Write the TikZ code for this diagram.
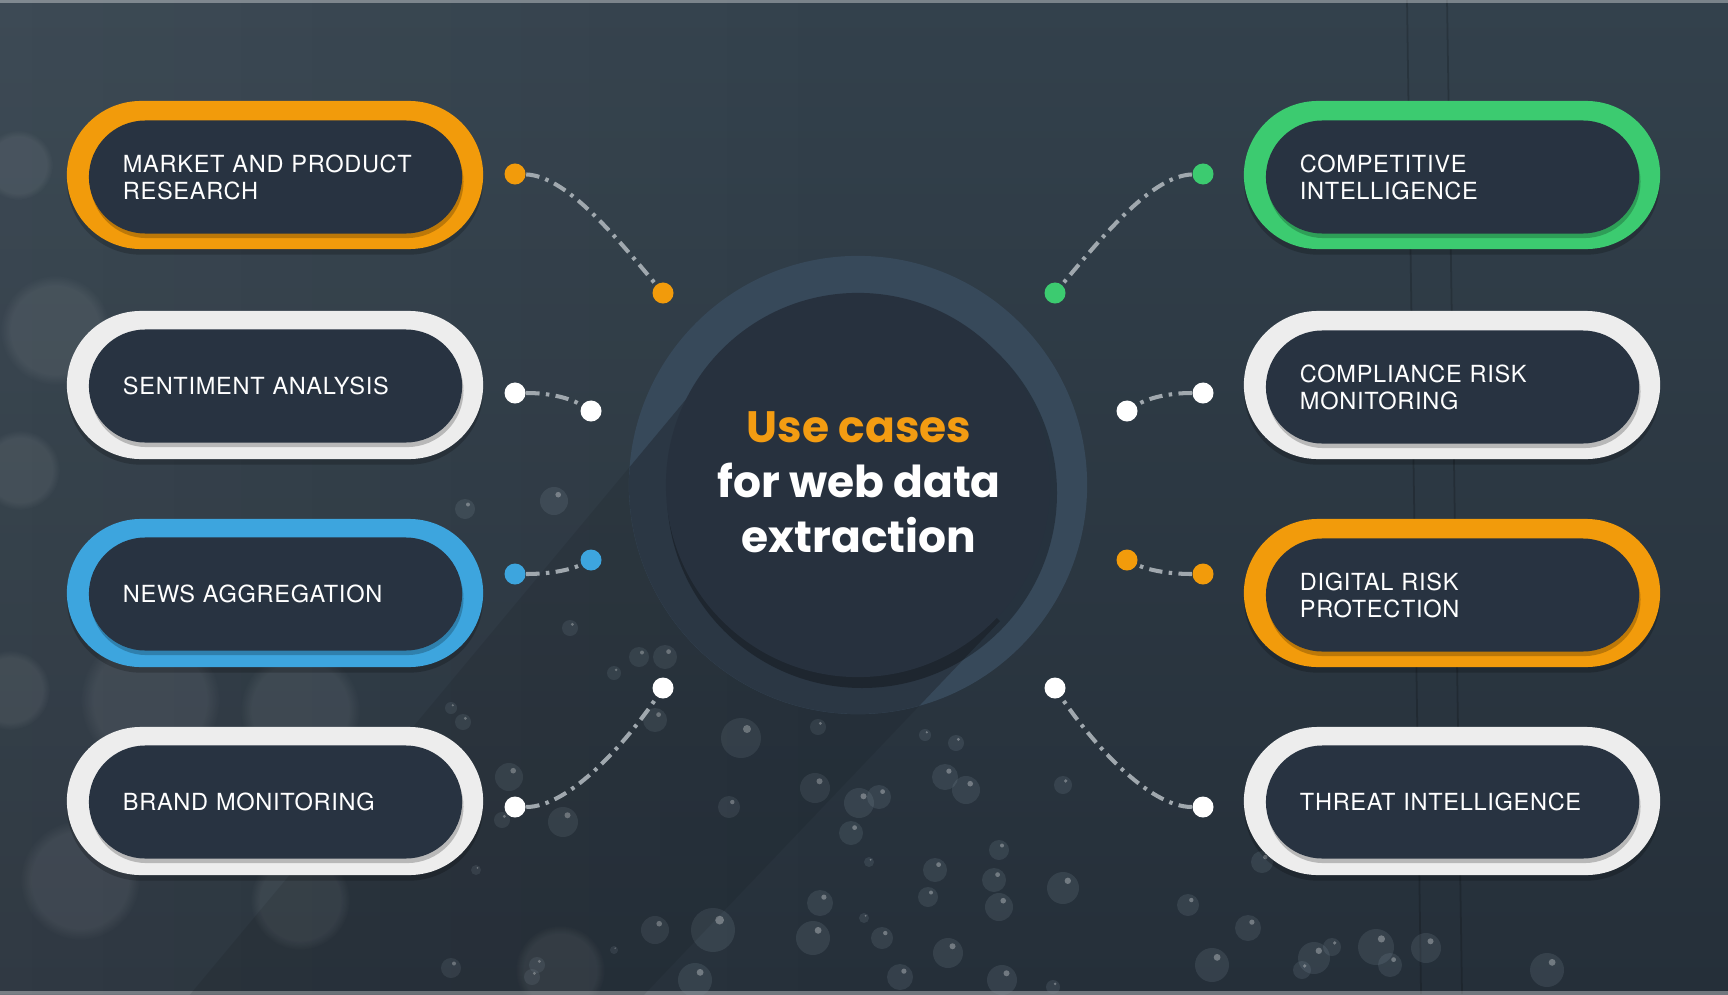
\documentclass[tikz,border=0pt]{standalone}
\usepackage{fontspec}
\setmainfont{TeX Gyre Heros}
\newfontfamily\labelfont{TeX Gyre Heros}[LetterSpace=3]
\newfontfamily\titlefont{Poppins}
\usetikzlibrary{fadings}

\definecolor{bgtop}{HTML}{33414C}
\definecolor{bgbot}{HTML}{252F39}
\definecolor{pillfill}{HTML}{283341}
\definecolor{ringorange}{HTML}{F29B0B}
\definecolor{ringgreen}{HTML}{3CCB70}
\definecolor{ringblue}{HTML}{3DA5DE}
\definecolor{ringwhite}{HTML}{EDEDED}
\definecolor{corering}{HTML}{37495A}
\definecolor{coreshade}{HTML}{2B3744}
\definecolor{corefill}{HTML}{27313E}
\definecolor{linkgray}{HTML}{A0A8AE}
\definecolor{titleorange}{HTML}{F39C12}
\definecolor{bubblecol}{HTML}{8A9CA9}

\tikzset{
  ring/.style={rectangle, rounded corners=0.74cm, minimum width=4.16cm,
    minimum height=1.48cm, inner sep=0pt, fill=#1,
    preaction={fill=black, fill opacity=.2, transform canvas={yshift=-1.6pt}}},
  pill/.style={rectangle, rounded corners=0.565cm, minimum width=3.73cm,
    minimum height=1.13cm, inner xsep=0.34cm, inner ysep=0pt,
    text width=3.05cm, align=left, fill=pillfill, text=white,
    font=\labelfont\fontsize{6.7}{7.7}\selectfont,
    preaction={fill=black, fill opacity=.22, transform canvas={xshift=.4pt, yshift=-1.3pt}}},
  dot/.style={circle, fill=#1, minimum size=0.21cm, inner sep=0pt},
  link/.style={draw=linkgray, line width=1.15pt,
    dash pattern=on 3.8pt off 1.8pt on 1pt off 1.8pt},
  bubble/.style={fill=bubblecol, opacity=.16},
  glint/.style={fill=white, opacity=.3},
  bokeh/.style={fill=white, opacity=.07, path fading=circle with fuzzy edge 20 percent}
}

\begin{document}
\begin{tikzpicture}[x=0.01cm, y=-0.01cm]

  \useasboundingbox (0,0) rectangle (1728,994);
  \shade[top color=bgtop, bottom color=bgbot] (0,0) rectangle (1728,994);
  \fill[white, opacity=.05, path fading=east] (0,0) rectangle (900,994);

  % background lines and blurred spots
  \draw[black, opacity=.18, line width=.5pt] (1407,0) -- (1421,994);
  \draw[black, opacity=.18, line width=.5pt] (1447,0) -- (1462,994);
  \draw[white, opacity=.35, line width=1pt] (0,1) -- (1728,1);
  \draw[white, opacity=.35, line width=1pt] (0,993) -- (1728,993);
  \foreach \bx/\by/\br in {18/165/35, 55/330/55, 20/470/40, 150/700/70,
      300/710/60, 10/690/40, 80/880/60, 300/900/50, 560/970/45}
    \fill[bokeh] (\bx,\by) circle (\br);

  % bubbles
  \foreach \bx/\by/\br in {741/738/20, 815/788/15, 859/803/15, 879/797/12,
      851/833/12, 945/777/13, 966/790/14, 956/743/8, 925/735/6, 818/727/8,
      729/807/11, 1063/785/9, 935/870/12, 999/850/10, 994/880/12, 999/907/14,
      928/897/10, 869/862/5, 1063/888/16, 820/903/13, 813/938/17, 882/938/11,
      864/918/5, 713/930/22, 655/930/14, 948/953/15, 900/977/13, 1002/980/15,
      695/980/17, 451/968/10, 537/965/8, 532/977/8, 563/822/15, 509/777/14,
      502/820/8, 463/722/8, 451/708/6, 665/657/12, 655/720/12, 614/673/7,
      639/657/10, 1053/987/7, 476/870/5, 614/950/4, 1188/905/11, 1248/928/13,
      1212/965/17, 1314/958/16, 1332/947/9, 1302/970/9, 1376/947/18,
      1390/965/12, 1426/948/15, 1547/970/17, 1262/862/11, 465/509/10,
      554/501/14, 570/628/8} {
    \fill[bubble] (\bx,\by) circle (\br);
    \fill[glint] ({\bx+0.3*\br},{\by-0.45*\br}) circle ({0.2*\br});
  }

  % centre
  \fill[black, opacity=.08] (718,361) -- (1000,621) -- (260,1398) -- (-22,1249) -- cycle;
  \node[circle, fill=corering, minimum size=4.58cm, inner sep=0pt] (core-ring) at (858,485) {};
  \begin{scope}
    \clip (858,485) circle (229);
    \fill[coreshade] (718,361) -- (1000,621) -- (260,1398) -- (-22,1249) -- cycle;
  \end{scope}
  \fill[black, opacity=.3] (862,493) circle (195);
  \node[circle, fill=corefill, minimum size=3.84cm, inner sep=0pt] (core) at (858,485) {};
  \node[align=center, text=white, font=\titlefont\bfseries\fontsize{12.5}{15.6}\selectfont]
    (title) at (859,482) {\textcolor{titleorange}{Use cases}\\for web data\\extraction};

  % left column
  \node[ring=ringorange] (mkt-ring) at (275,175) {};
  \node[pill] (mkt) at (275.5,177) {MARKET AND PRODUCT\\RESEARCH};
  \node[ring=ringwhite] (sent-ring) at (275,385) {};
  \node[pill] (sent) at (275.5,386) {SENTIMENT ANALYSIS};
  \node[ring=ringblue] (news-ring) at (275,593) {};
  \node[pill] (news) at (275.5,594) {NEWS AGGREGATION};
  \node[ring=ringwhite] (brand-ring) at (275,801) {};
  \node[pill] (brand) at (275.5,802) {BRAND MONITORING};

  % right column
  \node[ring=ringgreen] (comp-ring) at (1452,175) {};
  \node[pill] (comp) at (1452.5,177) {COMPETITIVE\\INTELLIGENCE};
  \node[ring=ringwhite] (compl-ring) at (1452,385) {};
  \node[pill] (compl) at (1452.5,387) {COMPLIANCE RISK\\MONITORING};
  \node[ring=ringorange] (digi-ring) at (1452,593) {};
  \node[pill] (digi) at (1452.5,595) {DIGITAL RISK\\PROTECTION};
  \node[ring=ringwhite] (threat-ring) at (1452,801) {};
  \node[pill] (threat) at (1452.5,802) {THREAT INTELLIGENCE};

  % dots
  \node[dot=ringorange] (mkt-a) at (515,174) {};
  \node[dot=ringorange] (mkt-b) at (663,293) {};
  \node[dot=white] (sent-a) at (515,393) {};
  \node[dot=white] (sent-b) at (591,411) {};
  \node[dot=ringblue] (news-a) at (515,574) {};
  \node[dot=ringblue] (news-b) at (591,560) {};
  \node[dot=white] (brand-a) at (515,807) {};
  \node[dot=white] (brand-b) at (663,688) {};
  \node[dot=ringgreen] (comp-a) at (1203,174) {};
  \node[dot=ringgreen] (comp-b) at (1055,293) {};
  \node[dot=white] (compl-a) at (1203,393) {};
  \node[dot=white] (compl-b) at (1127,411) {};
  \node[dot=ringorange] (digi-a) at (1203,574) {};
  \node[dot=ringorange] (digi-b) at (1127,560) {};
  \node[dot=white] (threat-a) at (1203,807) {};
  \node[dot=white] (threat-b) at (1055,688) {};

  \path[link] (mkt-a) .. controls (565,176) and (612,232) .. (mkt-b)
        (sent-a) .. controls (550,393) and (570,398) .. (sent-b)
        (news-a) .. controls (550,574) and (570,570) .. (news-b)
        (brand-a) .. controls (570,807) and (628,740) .. (brand-b)
        (comp-a) .. controls (1153,176) and (1106,232) .. (comp-b)
        (compl-a) .. controls (1168,393) and (1148,398) .. (compl-b)
        (digi-a) .. controls (1168,574) and (1148,570) .. (digi-b)
        (threat-a) .. controls (1148,807) and (1090,740) .. (threat-b);

\end{tikzpicture}
\end{document}
